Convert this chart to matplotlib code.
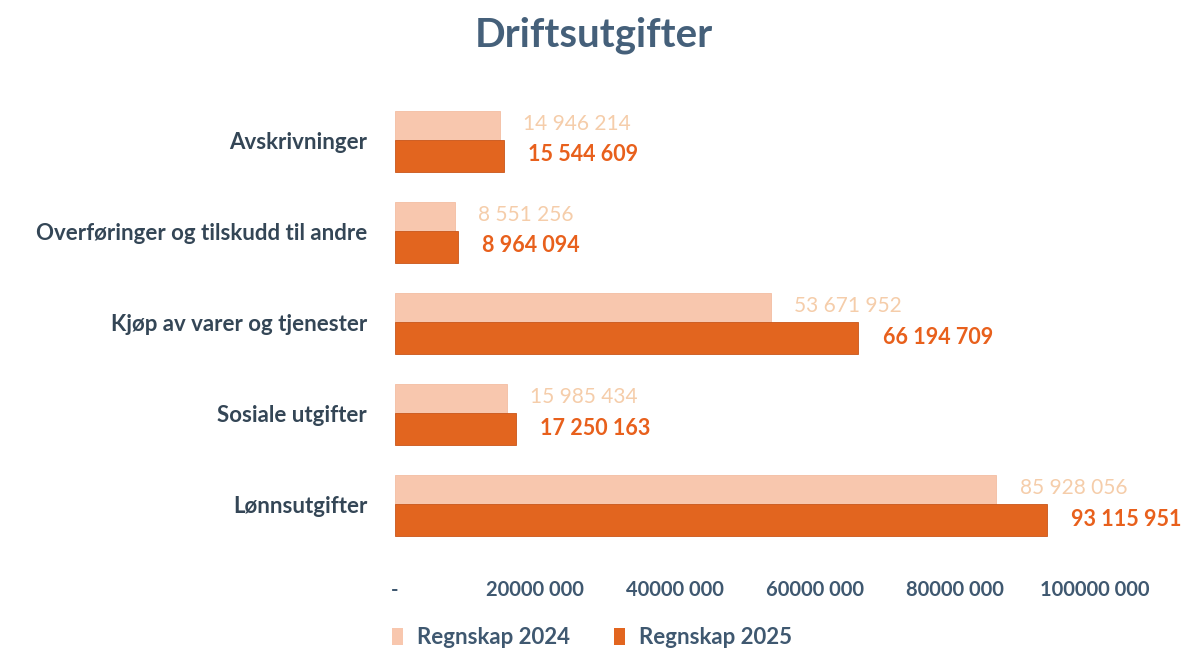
import numpy as np
import matplotlib
matplotlib.use("Agg")
import matplotlib.pyplot as plt
from matplotlib.patches import Patch

# data
kategorier = ["Lønnsutgifter", "Sosiale utgifter", "Kjøp av varer og tjenester",
              "Overføringer og tilskudd til andre", "Avskrivninger"]
regnskap_2024 = [85928056, 15985434, 53671952, 8551256, 14946214]
regnskap_2025 = [93115951, 17250163, 66194709, 8964094, 15544609]
tick_verdier = [0, 20000000, 40000000, 60000000, 80000000, 100000000]
tick_tekst = ["-", "20000 000", "40000 000", "60000 000", "80000 000", "100000 000"]

plt.rcParams['font.family'] = ['Lato', 'DejaVu Sans']

farge_24 = "#f8c7ae"
farge_25 = "#e2651f"
tekst_24 = "#f5cdaa"
tekst_25 = "#e8601c"
blaa = "#3f5870"

fig = plt.figure(figsize=(11.87, 6.52), dpi=100)
ax = fig.add_axes([395/1187, 1 - 555/652, 700/1187, 465/652])

y = np.arange(len(kategorier))
h = 0.33
ax.barh(y + 0.16, regnskap_2024, height=h, color=farge_24, edgecolor="#f3bda2", linewidth=0.6,
        label="Regnskap 2024", zorder=2)
ax.barh(y - 0.17, regnskap_2025, height=h + 0.02, color=farge_25, edgecolor="#c9561a", linewidth=0.6,
        label="Regnskap 2025", zorder=3)

def fmt(v):
    return f"{v:,}".replace(",", " ")

for i in range(len(kategorier)):
    ax.text(regnskap_2024[i] + 3300000, y[i] + 0.18, fmt(regnskap_2024[i]),
            va="center", ha="left", fontsize=15, color=tekst_24, clip_on=False)
    ax.text(regnskap_2025[i] + 3500000, y[i] - 0.16, fmt(regnskap_2025[i]),
            va="center", ha="left", fontsize=15.5, fontweight="bold", color=tekst_25, clip_on=False)

ax.set_xlim(0, 100000000)
ax.set_ylim(-0.55, 4.55)
ax.set_yticks(y)
ax.set_yticklabels(kategorier, fontsize=16, fontweight="bold", color="#344656")
ax.set_xticks(tick_verdier)
ax.set_xticklabels(tick_tekst, fontsize=14.5, fontweight="bold", color=blaa)
ax.tick_params(axis="both", length=0)
ax.tick_params(axis="y", pad=20)
ax.tick_params(axis="x", pad=18)
for s in ax.spines.values():
    s.set_visible(False)

fig.text(0.5, 1 - 35/652, "Driftsutgifter", ha="center", va="center",
         fontsize=29, fontweight="bold", color="#45607a")

handles = [Patch(facecolor=farge_24, edgecolor="none", label="Regnskap 2024"),
           Patch(facecolor=farge_25, edgecolor="none", label="Regnskap 2025")]
leg = fig.legend(handles=handles, loc="center", bbox_to_anchor=(592/1187, 1 - 638/652),
                 ncol=2, frameon=False, handlelength=0.5, handleheight=0.8,
                 handletextpad=0.6, columnspacing=2.0,
                 prop={'size': 16, 'weight': 'bold'})
for t in leg.get_texts():
    t.set_color(blaa)

fig.savefig("out.png", dpi=100, facecolor="white")
